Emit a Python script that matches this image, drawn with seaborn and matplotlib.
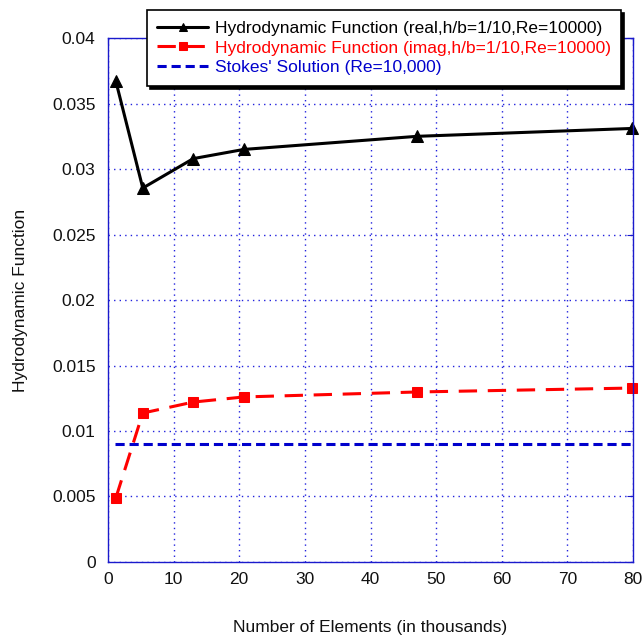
import matplotlib
matplotlib.use("Agg")
import matplotlib.pyplot as plt
import seaborn as sns
import pandas as pd

# Mesh size (thousands of elements) and computed hydrodynamic function values
elements = [1.2, 5.3, 13.0, 20.7, 47.1, 79.8]
real_part = [0.0367, 0.02855, 0.0308, 0.0315, 0.0325, 0.0331]
imag_part = [0.0049, 0.01137, 0.01221, 0.0126, 0.01298, 0.01328]
stokes_x = [1.0, 80.0]
stokes_value = [0.0090, 0.0090]

labels = [
    "Hydrodynamic Function (real,h/b=1/10,Re=10000)",
    "Hydrodynamic Function (imag,h/b=1/10,Re=10000)",
    "Stokes' Solution (Re=10,000)",
]
x_ticks = [0, 10, 20, 30, 40, 50, 60, 70, 80]
y_ticks = [0, 0.005, 0.01, 0.015, 0.02, 0.025, 0.03, 0.035, 0.04]
y_tick_labels = ["0", "0.005", "0.01", "0.015", "0.02", "0.025", "0.03", "0.035", "0.04"]

sns.set_style("white")
plt.rcParams["font.family"] = ["Liberation Sans", "DejaVu Sans"]

fig = plt.figure(figsize=(6.44, 6.35), dpi=100)
ax = fig.add_axes([108 / 644, 0.115, 525 / 644, 0.825])

df_real = pd.DataFrame({"x": elements, "y": real_part})
df_imag = pd.DataFrame({"x": elements, "y": imag_part})
df_stokes = pd.DataFrame({"x": stokes_x, "y": stokes_value})

sns.lineplot(data=df_real, x="x", y="y", ax=ax, color="black", lw=2.2,
             marker="^", markersize=8, markeredgecolor="black", label=labels[0])
sns.lineplot(data=df_imag, x="x", y="y", ax=ax, color="#ff0000", lw=2.2,
             marker="s", markersize=7, markeredgecolor="#ff0000", label=labels[1])
sns.lineplot(data=df_stokes, x="x", y="y", ax=ax, color="#0000cc", lw=2.2,
             label=labels[2])

lines = ax.get_lines()
lines[1].set_dashes([6, 3.5])
lines[2].set_dashes([3, 1.6])
for ln in lines:
    ln.set_clip_on(False)

ax.set_xlim(0, 80)
ax.set_ylim(0, 0.04)
ax.set_xticks(x_ticks)
ax.set_yticks(y_ticks)
ax.set_yticklabels(y_tick_labels)

ax.grid(True, color="#2222dd", linestyle=(0, (1, 3)), linewidth=1.0)
for side in ax.spines.values():
    side.set_color("#1a1acc")
    side.set_linewidth(1.0)
ax.tick_params(direction="in", top=True, right=True, color="#1a1acc",
               labelsize=12.5, length=4, labelcolor="#111111")
ax.tick_params(axis="x", pad=7)
ax.tick_params(axis="y", pad=9)

ax.set_xlabel("Number of Elements (in thousands)", fontsize=12.5, labelpad=24, color="#111111")
ax.set_ylabel("Hydrodynamic Function", fontsize=12.5, labelpad=17, color="#111111")

leg = ax.legend(loc="upper left", bbox_to_anchor=(147 / 644, 1 - 10 / 635),
                bbox_transform=fig.transFigure, frameon=True, fancybox=False,
                shadow={"color": "black", "alpha": 1.0}, fontsize=12.55,
                handlelength=2.9, handletextpad=0.4, borderpad=0.6,
                labelspacing=0.27, borderaxespad=0, markerscale=0.8)
leg.get_frame().set_edgecolor("black")
leg.get_frame().set_linewidth(1.2)
for text, col in zip(leg.get_texts(), ["black", "#ff0000", "#0000cc"]):
    text.set_color(col)
leg.set_zorder(10)

fig.savefig("out.png", dpi=100)
